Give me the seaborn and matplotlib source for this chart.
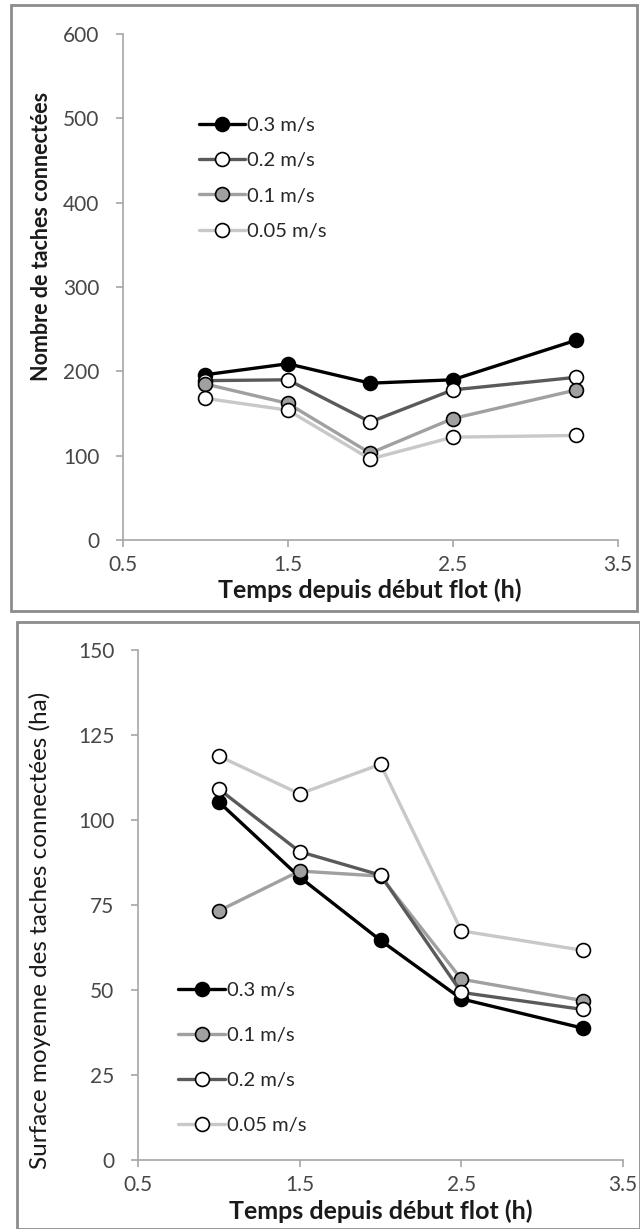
import pandas as pd
import seaborn as sns
import matplotlib.pyplot as plt
from matplotlib.patches import Rectangle

# time since start of flood (h)
temps = [1.0, 1.5, 2.0, 2.5, 3.25]

# top panel: number of connected patches
nb_03 = [196, 209, 186, 190, 237]
nb_02 = [189, 190, 140, 178, 193]
nb_01 = [185, 162, 103, 144, 178]
nb_005 = [168, 154, 96, 122, 124]

# bottom panel: mean surface of connected patches (ha)
surf_03 = [105.3, 83.2, 64.6, 47.4, 38.8]
surf_01 = [73.3, 85.0, 83.5, 53.2, 46.9]
surf_02 = [109.1, 90.7, 83.8, 49.3, 44.3]
surf_005 = [118.8, 107.7, 116.4, 67.4, 61.7]

top_labels = ['0.3 m/s', '0.2 m/s', '0.1 m/s', '0.05 m/s']
bot_labels = ['0.3 m/s', '0.1 m/s', '0.2 m/s', '0.05 m/s']

styles = {
    '0.3 m/s':  dict(color='#000000', mfc='#000000', lw=2.4),
    '0.2 m/s':  dict(color='#5a5a5a', mfc='#ffffff', lw=2.4),
    '0.1 m/s':  dict(color='#a0a0a0', mfc='#a0a0a0', lw=2.4),
    '0.05 m/s': dict(color='#c8c8c8', mfc='#ffffff', lw=2.4),
}

def long_df(series, labels):
    rows = []
    for lab, vals in zip(labels, series):
        for t, v in zip(temps, vals):
            rows.append({'Temps': t, 'Valeur': v, 'Vitesse': lab})
    return pd.DataFrame(rows)

df_top = long_df([nb_03, nb_02, nb_01, nb_005], top_labels)
df_bot = long_df([surf_03, surf_01, surf_02, surf_005], bot_labels)

sns.set_theme(style='white')
plt.rcParams['font.family'] = ['Lato', 'DejaVu Sans']

fig = plt.figure(figsize=(6.4, 12.29), dpi=100)
fig.patch.set_facecolor('white')

# panel frames
fig.patches.append(Rectangle((0.017, 0.503), 0.978, 0.493, transform=fig.transFigure,
                             fill=False, edgecolor='#8c8c8c', lw=2, zorder=0))
fig.patches.append(Rectangle((0.026, 0.0), 0.974, 0.494, transform=fig.transFigure,
                             fill=False, edgecolor='#8c8c8c', lw=2, zorder=0))

ax1 = fig.add_axes([0.192, 0.5606, 0.773, 0.4117])
ax2 = fig.add_axes([0.2156, 0.0561, 0.758, 0.415])


def draw(ax, df, labels, ylim, yticks, ylabel, ylab_xy, leg_loc, leg_space,
         ylab_weight, ylab_size):
    for lab in labels:
        st = styles[lab]
        sub = df[df['Vitesse'] == lab]
        sns.lineplot(data=sub, x='Temps', y='Valeur', ax=ax, color=st['color'],
                     lw=st['lw'], marker='o', markersize=10, markerfacecolor=st['mfc'],
                     markeredgecolor='#000000', markeredgewidth=1.2, label=lab)
    ax.set_xlim(0.5, 3.5)
    ax.set_ylim(*ylim)
    ax.set_xticks([0.5, 1.5, 2.5, 3.5])
    ax.set_xticklabels(['0.5', '1.5', '2.5', '3.5'])
    ax.set_yticks(yticks)
    sns.despine(ax=ax)
    for s in ['left', 'bottom']:
        ax.spines[s].set_color('#a6a6a6')
        ax.spines[s].set_linewidth(1.2)
    ax.tick_params(axis='both', which='major', length=5, width=1.2, color='#a6a6a6',
                   labelsize=15, labelcolor='#474747', direction='out',
                   bottom=True, left=True)
    ax.tick_params(axis='x', pad=6)
    ax.tick_params(axis='y', pad=12)
    ax.set_xlabel('Temps depuis début flot (h)', fontsize=18, fontweight='bold',
                  color='#1a1a1a')
    ax.xaxis.set_label_coords(0.5, -0.1)
    ax.xaxis.label.set_verticalalignment('center')
    ax.set_ylabel(ylabel, fontsize=ylab_size, color='#1a1a1a', fontweight=ylab_weight)
    ax.yaxis.set_label_coords(*ylab_xy)
    ax.yaxis.label.set_verticalalignment('center')
    leg = ax.legend(loc='upper left', bbox_to_anchor=leg_loc, frameon=False,
                    fontsize=14.5, handlelength=2.3, handletextpad=0.1,
                    labelspacing=leg_space, borderaxespad=0, borderpad=0.2)
    for t in leg.get_texts():
        t.set_color('#262626')


draw(ax1, df_top, top_labels, (0, 600), range(0, 601, 100),
     'Nombre de taches connectées', (-0.164, 0.6), (0.145, 0.844), 0.9, 'bold', 15.5)
draw(ax2, df_bot, bot_labels, (0, 150), range(0, 151, 25),
     'Surface moyenne des taches connectées (ha)', (-0.202, 0.45), (0.075, 0.357), 1.38,
     'normal', 17.5)

fig.savefig('out.png', dpi=100, facecolor='white')
